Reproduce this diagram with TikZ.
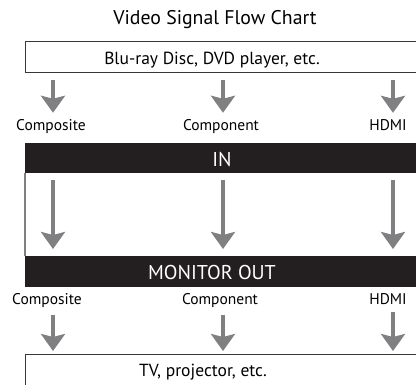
\documentclass[tikz,border=0pt]{standalone}
\usepackage{fontspec}
\setmainfont{PT Sans}
\usetikzlibrary{arrows.meta,positioning}

\definecolor{flowgray}{RGB}{128,128,130}
\definecolor{barblack}{RGB}{35,31,32}
\definecolor{edgegray}{RGB}{55,55,55}

\begin{document}
\begin{tikzpicture}[
    x=1pt, y=-1pt,
    panel/.style={draw=edgegray, line width=1pt, minimum width=430pt, inner sep=0pt, anchor=north west},
    bar/.style={fill=barblack, minimum width=430pt, minimum height=30pt, inner sep=0pt, anchor=north west},
    boxtext/.style={font=\fontsize{17.5}{20}\selectfont, inner sep=0pt, anchor=base},
    bartext/.style={font=\fontsize{20}{22}\selectfont, inner sep=0pt, anchor=base, text=white},
    portlabel/.style={font=\fontsize{15.5}{17}\selectfont, inner sep=0pt, anchor=base},
    sigarrow/.style={draw=flowgray, line width=4.5pt, -{Stealth[width=24pt,length=17pt,inset=3pt]}}
]
    \useasboundingbox (0,0) rectangle (416,385);
    \clip (0,0) rectangle (416,385);

    % Columns
    \coordinate (colA) at (53,0);
    \coordinate (colB) at (223,0);
    \coordinate (colC) at (393,0);

    % Boxes and bars
    \node[panel, minimum height=31pt] (src) at (25,41) {};
    \node[bar] (inbar) at (25,143) {};
    \node[bar, minimum height=31pt] (outbar) at (25,256) {};
    \node[panel, minimum height=60pt] (dst) at (25,354) {};
    \draw[draw=flowgray, line width=1.5pt] (inbar.south west) -- (outbar.north west);

    % Texts
    \node[boxtext, font=\fontsize{19.8}{22}\selectfont] (title) at (215,25) {Video Signal Flow Chart};
    \node[boxtext] (srctext) at (212,65) {Blu-ray Disc, DVD player, etc.};
    \node[bartext] (intext) at (222,167) {IN};
    \node[bartext] (outtext) at (212,280) {MONITOR OUT};
    \node[boxtext] (dsttext) at (203,377) {TV, projector, etc.};

    % Port labels
    \node[portlabel] (compIn) at (51,131) {Composite};
    \node[portlabel] (compoIn) at (221,131) {Component};
    \node[portlabel] (hdmiIn) at (388,131) {HDMI};
    \node[portlabel] (compOut) at (47,305) {Composite};
    \node[portlabel] (compoOut) at (220,305) {Component};
    \node[portlabel] (hdmiOut) at (388,305) {HDMI};

    % Arrows
    \draw[sigarrow, shorten <=7pt, shorten >=7pt] (src.south -| colA) -- (compIn.north -| colA);
    \draw[sigarrow, shorten <=7pt, shorten >=7pt] (src.south -| colB) -- (compoIn.north -| colB);
    \draw[sigarrow, shorten <=7pt, shorten >=7pt] (src.south -| colC) -- (hdmiIn.north -| colC);
    \draw[sigarrow, shorten <=7pt, shorten >=7pt] (inbar.south -| colA) -- (outbar.north -| colA);
    \draw[sigarrow, shorten <=7pt, shorten >=7pt] (inbar.south -| colB) -- (outbar.north -| colB);
    \draw[sigarrow, shorten <=7pt, shorten >=7pt] (inbar.south -| colC) -- (outbar.north -| colC);
    \draw[sigarrow, shorten <=7pt, shorten >=3pt] (compOut.south -| colA) -- (dst.north -| colA);
    \draw[sigarrow, shorten <=7pt, shorten >=3pt] (compoOut.south -| colB) -- (dst.north -| colB);
    \draw[sigarrow, shorten <=7pt, shorten >=3pt] (hdmiOut.south -| colC) -- (dst.north -| colC);
\end{tikzpicture}
\end{document}
